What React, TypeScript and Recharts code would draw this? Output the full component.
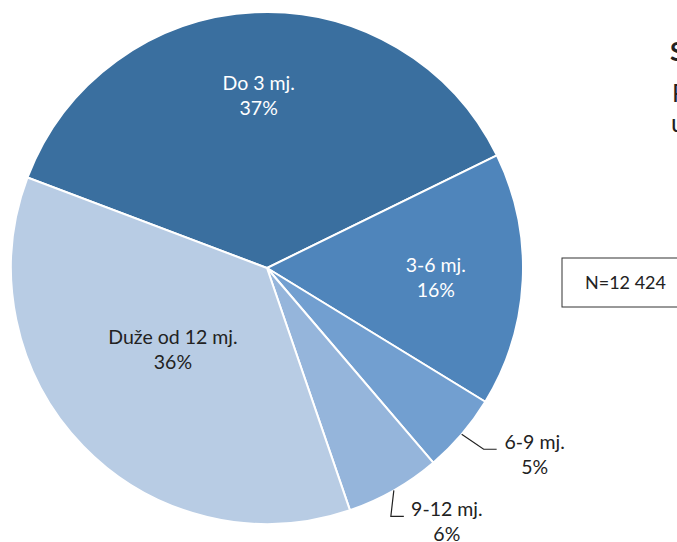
import { Cell, Pie, PieChart } from "recharts";

const categories = ["Do 3 mj.", "3-6 mj.", "6-9 mj.", "9-12 mj.", "Duže od 12 mj."];
const shares = [37, 16, 5, 6, 36];
const colors = ["#3a6f9f", "#4f85bb", "#729fd0", "#95b5db", "#b8cce4"];
const sampleNote = "N=12 424";

const data = categories.map((name, i) => ({ name, value: shares[i] }));

const RAD = Math.PI / 180;
const font = "Lato, 'Noto Sans', sans-serif";

// inner labels: fraction of radius + small nudge
const inside: { [k: number]: { r: number; dx: number; dy: number } } = {
  0: { r: 0.69, dx: 0, dy: 3 },
  1: { r: 0.66, dx: 0, dy: 1 },
  4: { r: 0.49, dx: -4, dy: -6 },
};
// outside labels: elbow offsets and text centre offset
const outside: { [k: number]: { ex: number; ey: number; tx: number } } = {
  2: { ex: 22, ey: 15, tx: 38 },
  3: { ex: -3, ey: 26, tx: 43 },
};

const renderLabel = (props: any) => {
  const { cx, cy, midAngle, outerRadius, index, name, value } = props;
  const cos = Math.cos(-midAngle * RAD);
  const sin = Math.sin(-midAngle * RAD);
  const pct = `${value}%`;

  if (inside[index]) {
    const o = inside[index];
    const x = cx + outerRadius * o.r * cos + o.dx;
    const y = cy + outerRadius * o.r * sin + o.dy;
    const fill = index === 4 ? "#222" : "#fff";
    return (
      <text x={x} y={y} textAnchor="middle" fill={fill} fontFamily={font} fontSize={19.5}>
        <tspan x={x} dy={-5}>{name}</tspan>
        <tspan x={x} dy={25}>{pct}</tspan>
      </text>
    );
  }

  const o = outside[index];
  const sx = cx + outerRadius * cos;
  const sy = cy + outerRadius * sin;
  const ex = sx + o.ex;
  const ey = sy + o.ey;
  const hx = ex + 13;
  const tx = hx + o.tx;
  return (
    <g>
      <path d={`M${sx},${sy}L${ex},${ey}L${hx},${ey}`} stroke="#222" strokeWidth={1.2} fill="none" />
      <text x={tx} y={ey} textAnchor="middle" fill="#222" fontFamily={font} fontSize={19.5}>
        <tspan x={tx} dy={0}>{name}</tspan>
        <tspan x={tx} dy={25}>{pct}</tspan>
      </text>
    </g>
  );
};

const App = () => {
  return (
    <div style={{ position: "absolute", left: 0, top: 0, width: 677, height: 542, background: "#fff" }}>
      <PieChart width={677} height={542} margin={{ top: 0, right: 0, bottom: 0, left: 0 }}>
        <Pie
          data={data}
          dataKey="value"
          nameKey="name"
          cx={267}
          cy={268}
          outerRadius={256}
          startAngle={159.3}
          endAngle={-200.7}
          stroke="#fff"
          strokeWidth={2}
          label={renderLabel}
          labelLine={false}
          isAnimationActive={false}
        >
          {data.map((d, i) => (
            <Cell key={d.name} fill={colors[i]} />
          ))}
        </Pie>
        <text x={670} y={61} fontFamily={font} fontSize={26} fontWeight="bold" fill="#222">S</text>
        <text x={672} y={102} fontFamily={font} fontSize={25} fill="#222">P</text>
        <text x={671} y={132} fontFamily={font} fontSize={25} fill="#222">u</text>
        <rect x={562} y={258} width={130} height={49} fill="#fff" stroke="#333" strokeWidth={1} />
        <text x={585} y={289} fontFamily={font} fontSize={18} fill="#222">{sampleNote}</text>
      </PieChart>
    </div>
  );
};

export default App;
